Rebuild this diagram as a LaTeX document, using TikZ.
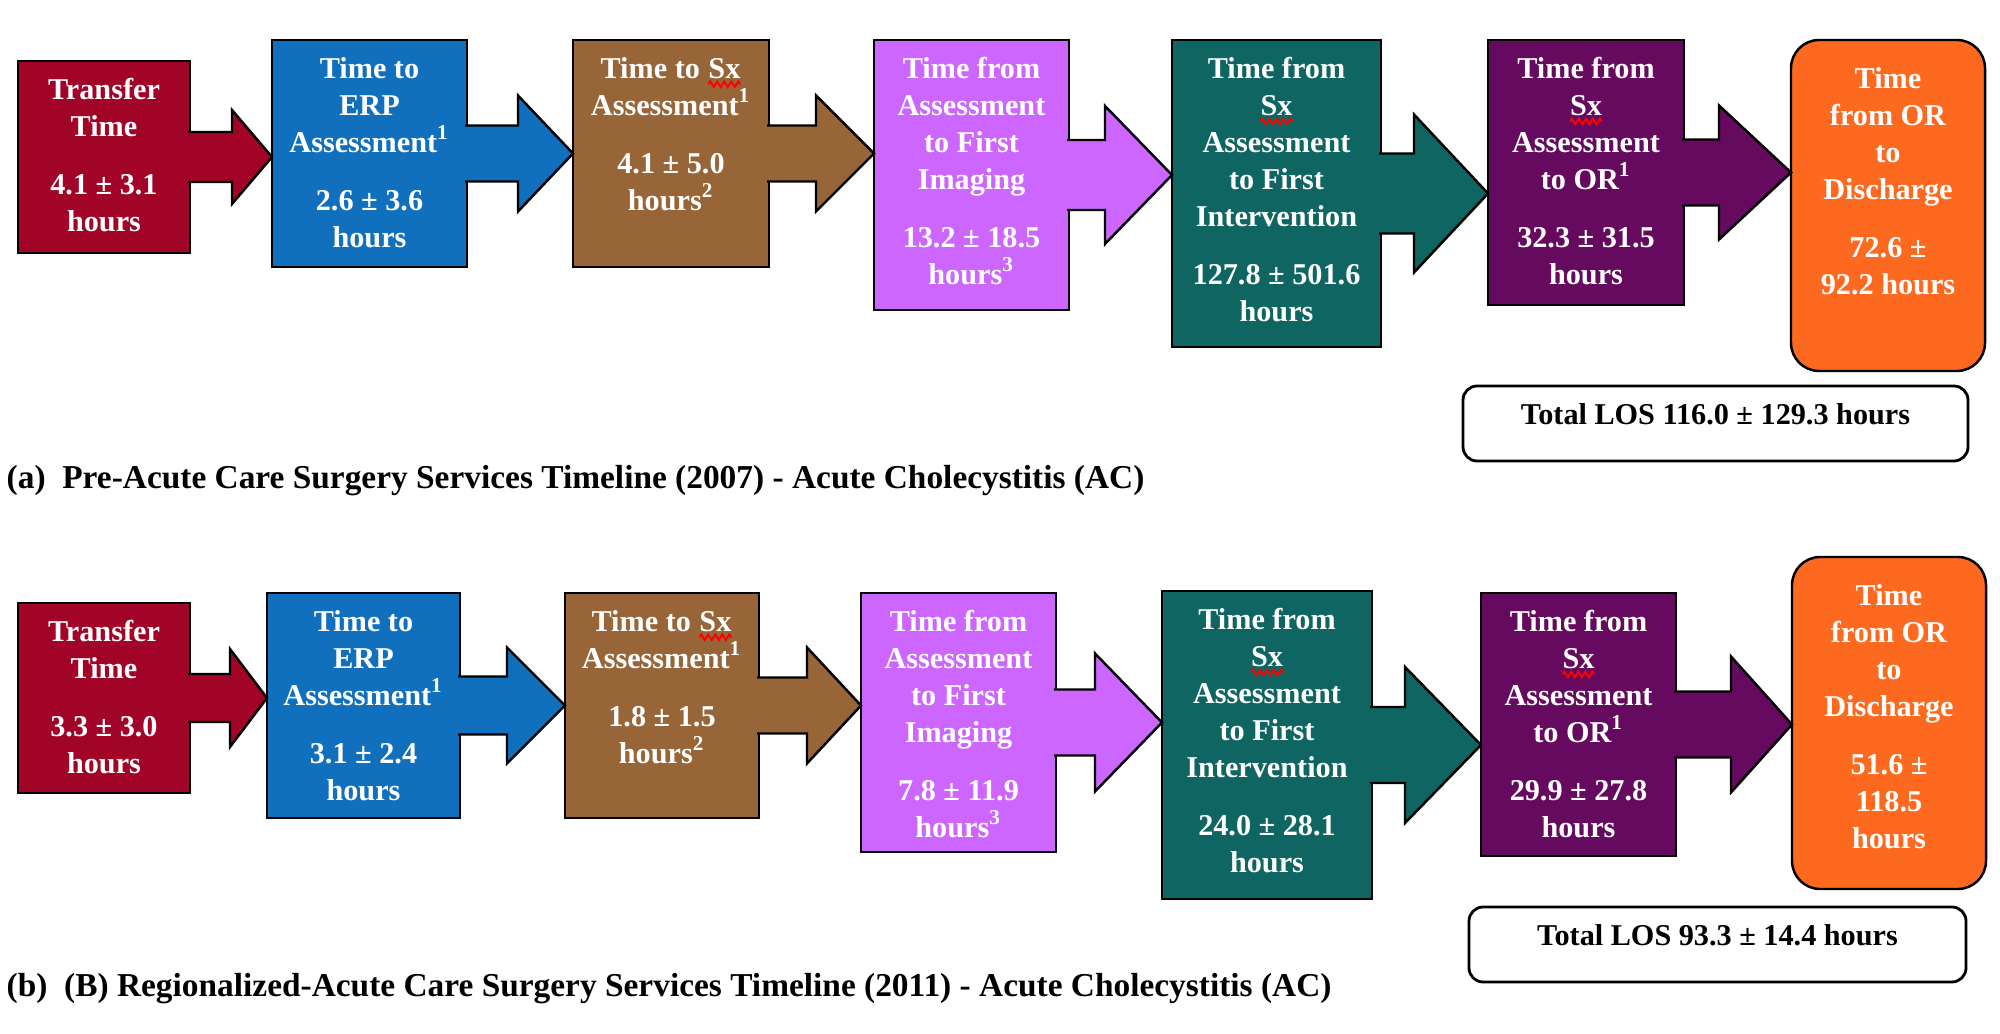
\documentclass[tikz,border=0pt]{standalone}
\usepackage{fontspec}
\setmainfont{Liberation Serif}
\usepackage{xcolor}
\definecolor{stagered}{HTML}{A10427}
\definecolor{stageblue}{HTML}{1170BE}
\definecolor{stagebrown}{HTML}{976537}
\definecolor{stagelilac}{HTML}{CC66FF}
\definecolor{stageteal}{HTML}{0E6561}
\definecolor{stageplum}{HTML}{650A5F}
\definecolor{stageorange}{HTML}{FD6A1F}
\usepackage{tikz}
\usetikzlibrary{positioning,calc,decorations.pathmorphing}
% red spell-check wave under a word
\newcommand{\spellmark}[1]{\tikz[baseline=(w.base)]{\node[inner sep=0pt,outer sep=0pt] (w) {#1};
  \draw[red,line width=0.55pt,decorate,decoration={zigzag,amplitude=0.8pt,segment length=2pt}]
    ([yshift=-1.5pt]w.south west) -- ([yshift=-1.5pt]w.south east);}}

\begin{document}
\begin{tikzpicture}[
  font=\bfseries\fontsize{8.6}{10.5}\selectfont,
  stage/.style={rectangle,draw=black,line width=0.7pt,inner sep=0pt,outer sep=0pt,anchor=north west},
  lastst/.style={stage,rounded corners=8pt,fill=stageorange},
  lbl/.style={text=white,align=center,inner sep=0pt},
  flow/.style={draw=black,line width=0.7pt,line join=miter},
  total/.style={rectangle,rounded corners=4pt,draw=black,line width=0.8pt,inner sep=0pt,outer sep=0pt,anchor=north west,minimum height=0.75cm,text depth=5.3pt},
  caption/.style={anchor=west,inner sep=0pt,font=\bfseries\fontsize{9.5}{11}\selectfont}
]
\useasboundingbox (0,0) rectangle (20,10.33);

% (a) 2007 timeline
\node[stage,fill=stagered,minimum width=1.72cm,minimum height=1.92cm] (pre1) at (0.18,9.72) {};
\node[lbl,below=0.17cm of pre1.north] (pre1txt) {Transfer\\Time\\[6pt]4.1 ± 3.1\\hours};
\node[stage,fill=stageblue,minimum width=1.95cm,minimum height=2.27cm] (pre2) at (2.72,9.93) {};
\node[lbl,below=0.17cm of pre2.north] (pre2txt) {Time to\\ERP\\Assessment\textsuperscript{1}\\[6pt]2.6 ± 3.6\\hours};
\node[stage,fill=stagebrown,minimum width=1.96cm,minimum height=2.27cm] (pre3) at (5.73,9.93) {};
\node[lbl,below=0.17cm of pre3.north] (pre3txt) {Time to \spellmark{Sx}\\Assessment\textsuperscript{1}\\[6pt]4.1 ± 5.0\\hours\textsuperscript{2}};
\node[stage,fill=stagelilac,minimum width=1.95cm,minimum height=2.70cm] (pre4) at (8.74,9.93) {};
\node[lbl,below=0.17cm of pre4.north] (pre4txt) {Time from\\Assessment\\to First\\Imaging\\[6pt]13.2 ± 18.5\\hours\textsuperscript{3}};
\node[stage,fill=stageteal,minimum width=2.09cm,minimum height=3.07cm] (pre5) at (11.72,9.93) {};
\node[lbl,below=0.17cm of pre5.north] (pre5txt) {Time from\\\spellmark{Sx}\\Assessment\\to First\\Intervention\\[6pt]127.8 ± 501.6\\hours};
\node[stage,fill=stageplum,minimum width=1.96cm,minimum height=2.65cm] (pre6) at (14.88,9.93) {};
\node[lbl,below=0.17cm of pre6.north] (pre6txt) {Time from\\\spellmark{Sx}\\Assessment\\to OR\textsuperscript{1}\\[6pt]32.3 ± 31.5\\hours};
\node[lastst,minimum width=1.94cm,minimum height=3.31cm] (pre7) at (17.91,9.93) {};
\node[lbl,below=0.27cm of pre7.north] (pre7txt) {Time\\from OR\\to\\Discharge\\[6pt]72.6 ±\\92.2 hours};
\node[total,minimum width=5.05cm] (prelos) at (14.63,6.47) {Total LOS 116.0 ± 129.3 hours};
\node[caption] (capa) at (0.06,5.52) {(a)\enspace Pre-Acute Care Surgery Services Timeline (2007) - Acute Cholecystitis (AC)};

% (b) 2011 timeline
\node[stage,fill=stagered,minimum width=1.72cm,minimum height=1.90cm] (post1) at (0.18,4.30) {};
\node[lbl,below=0.17cm of post1.north] (post1txt) {Transfer\\Time\\[6pt]3.3 ± 3.0\\hours};
\node[stage,fill=stageblue,minimum width=1.93cm,minimum height=2.25cm] (post2) at (2.67,4.40) {};
\node[lbl,below=0.17cm of post2.north] (post2txt) {Time to\\ERP\\Assessment\textsuperscript{1}\\[6pt]3.1 ± 2.4\\hours};
\node[stage,fill=stagebrown,minimum width=1.94cm,minimum height=2.25cm] (post3) at (5.65,4.40) {};
\node[lbl,below=0.17cm of post3.north] (post3txt) {Time to \spellmark{Sx}\\Assessment\textsuperscript{1}\\[6pt]1.8 ± 1.5\\hours\textsuperscript{2}};
\node[stage,fill=stagelilac,minimum width=1.95cm,minimum height=2.59cm] (post4) at (8.61,4.40) {};
\node[lbl,below=0.17cm of post4.north] (post4txt) {Time from\\Assessment\\to First\\Imaging\\[6pt]7.8 ± 11.9\\hours\textsuperscript{3}};
\node[stage,fill=stageteal,minimum width=2.10cm,minimum height=3.08cm] (post5) at (11.62,4.42) {};
\node[lbl,below=0.17cm of post5.north] (post5txt) {Time from\\\spellmark{Sx}\\Assessment\\to First\\Intervention\\[6pt]24.0 ± 28.1\\hours};
\node[stage,fill=stageplum,minimum width=1.95cm,minimum height=2.63cm] (post6) at (14.81,4.40) {};
\node[lbl,below=0.17cm of post6.north] (post6txt) {Time from\\\spellmark{Sx}\\Assessment\\to OR\textsuperscript{1}\\[6pt]29.9 ± 27.8\\hours};
\node[lastst,minimum width=1.94cm,minimum height=3.32cm] (post7) at (17.92,4.76) {};
\node[lbl,below=0.27cm of post7.north] (post7txt) {Time\\from OR\\to\\Discharge\\[6pt]51.6 ±\\118.5\\hours};
\node[total,minimum width=4.97cm] (postlos) at (14.69,1.26) {Total LOS 93.3 ± 14.4 hours};
\node[caption] (capb) at (0.06,0.44) {(b)\enspace (B) Regionalized-Acute Care Surgery Services Timeline (2011) - Acute Cholecystitis (AC)};

% callout arrows: from/to/shaft/head/head length/colour
\foreach \s/\t/\sh/\hh/\hl/\c in {
  pre1/pre2/0.25/0.47/0.40/stagered, pre2/pre3/0.28/0.58/0.55/stageblue,
  pre3/pre4/0.28/0.58/0.58/stagebrown, pre4/pre5/0.35/0.69/0.67/stagelilac,
  pre5/pre6/0.40/0.79/0.74/stageteal, pre6/pre7/0.33/0.67/0.72/stageplum,
  post1/post2/0.24/0.49/0.37/stagered, post2/post3/0.29/0.58/0.58/stageblue,
  post3/post4/0.28/0.58/0.54/stagebrown, post4/post5/0.33/0.69/0.67/stagelilac,
  post5/post6/0.38/0.78/0.76/stageteal, post6/post7/0.33/0.68/0.61/stageplum}
  \draw[flow,fill=\c] ($(\s.east)+(-0.02,\sh)$) -- ($(\t.west |- \s.east)+(-\hl,\sh)$)
    -- ($(\t.west |- \s.east)+(-\hl,\hh)$) -- (\t.west |- \s.east)
    -- ($(\t.west |- \s.east)+(-\hl,-\hh)$) -- ($(\t.west |- \s.east)+(-\hl,-\sh)$)
    -- ($(\s.east)+(-0.02,-\sh)$);
\end{tikzpicture}
\end{document}
